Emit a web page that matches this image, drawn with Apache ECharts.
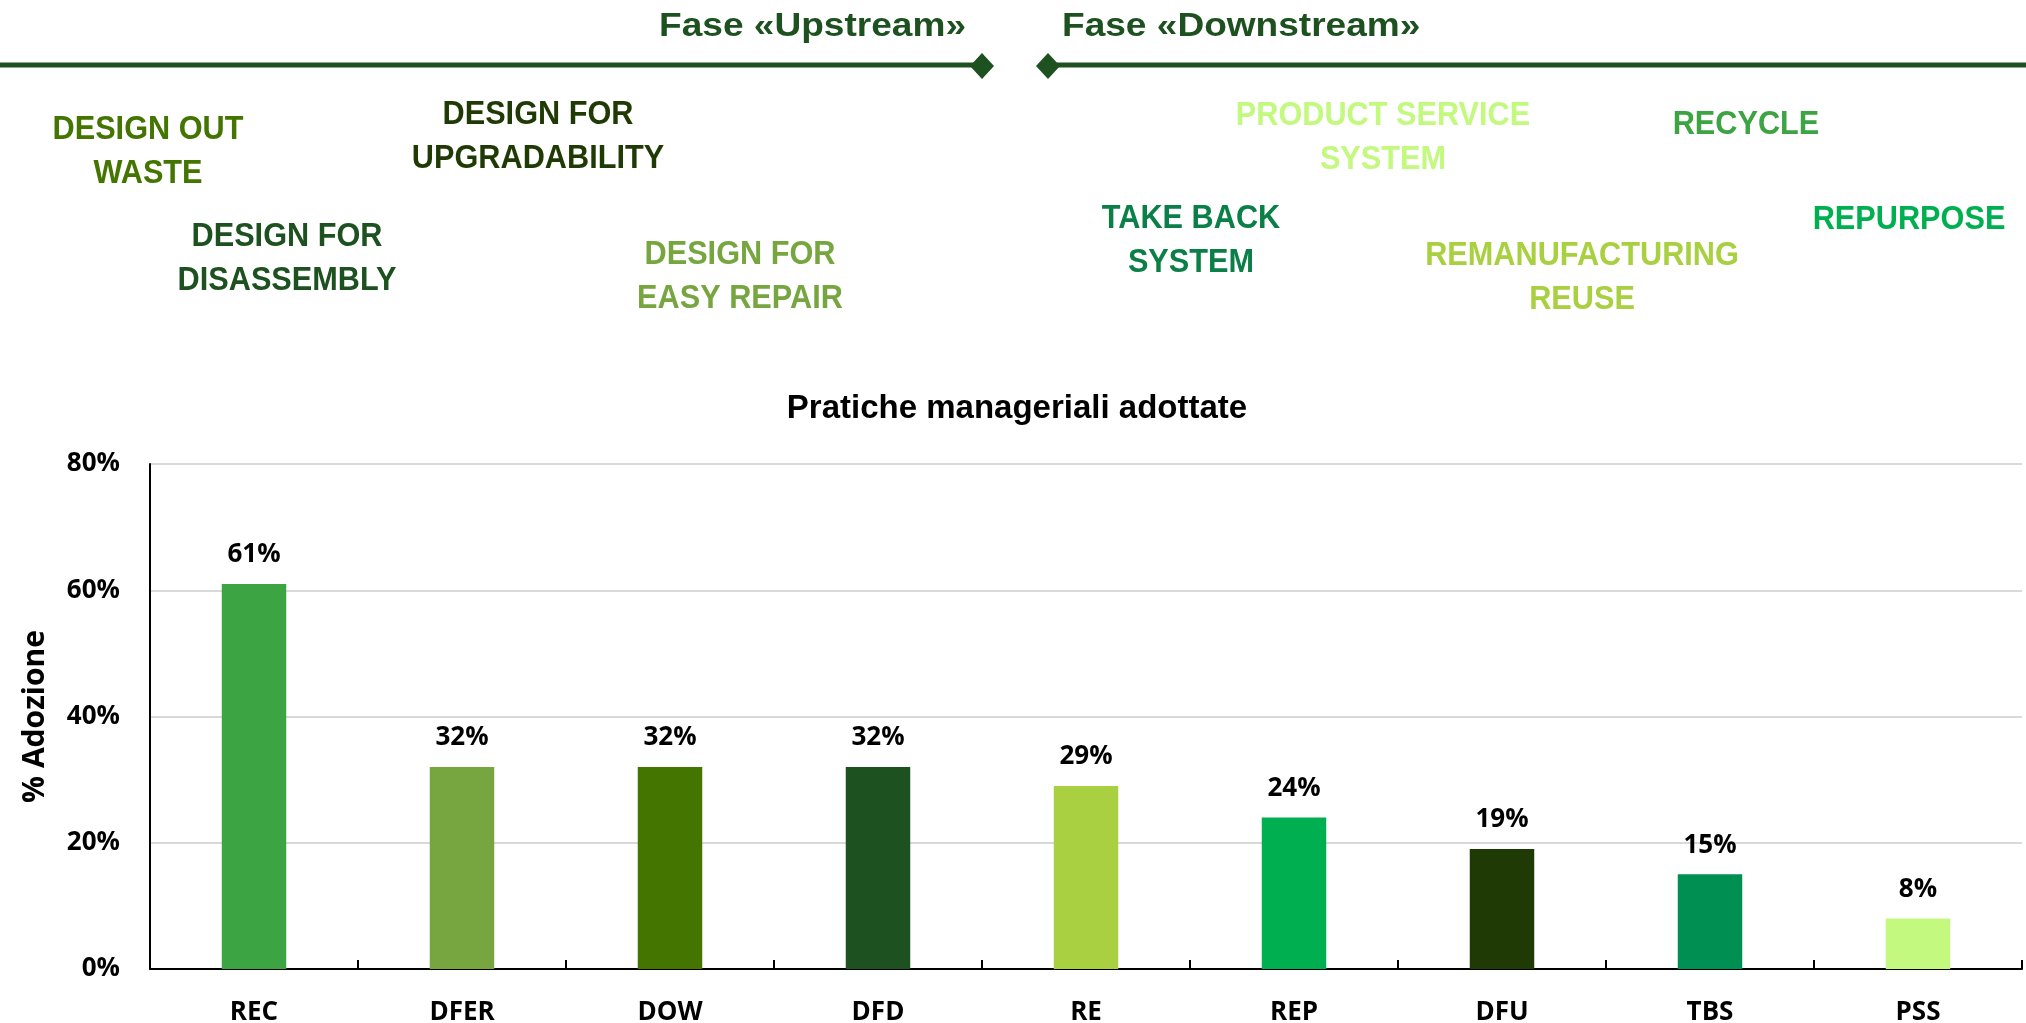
<!DOCTYPE html>
<html>
<head>
<meta charset="utf-8">
<script src="https://cdn.jsdelivr.net/npm/echarts@6/dist/echarts.min.js"></script>
<style>
html,body{margin:0;padding:0;background:#fff;}
#chart{width:2026px;height:1023px;}
</style>
</head>
<body>
<div id="chart"></div>
<script>
// ---- data ----
const categories = ['REC', 'DFER', 'DOW', 'DFD', 'RE', 'REP', 'DFU', 'TBS', 'PSS'];
const adoption = [61, 32, 32, 32, 29, 24, 19, 15, 8];
const yAxisMax = 80;
const yAxisStep = 20;
const chartTitle = 'Pratiche manageriali adottate';
const yAxisName = '% Adozione';
const phaseUp = 'Fase «Upstream»';
const phaseDown = 'Fase «Downstream»';
const practiceTexts = [
  'DESIGN OUT\nWASTE',
  'DESIGN FOR\nDISASSEMBLY',
  'DESIGN FOR\nUPGRADABILITY',
  'DESIGN FOR\nEASY REPAIR',
  'TAKE BACK\nSYSTEM',
  'PRODUCT SERVICE\nSYSTEM',
  'REMANUFACTURING\nREUSE',
  'RECYCLE',
  'REPURPOSE'
];

// ---- styles ----
const barColors = ['#3DA443', '#77A640', '#437500', '#1E5120', '#A8D040', '#00B050', '#1F3A04', '#008F52', '#C3F97E'];
const practiceColors = ['#437500', '#1E5120', '#1F3A04', '#77A640', '#0A7F47', '#C3F97E', '#A8D040', '#3DA443', '#00B050'];
const practicePos = [[148,152],[287,259],[538,137],[740,277],[1191,241],[1383,138],[1582,278],[1746,125],[1909,220]];
const darkGreen = '#1E5120';
const sansFont = '"Liberation Sans", Arial, sans-serif';
const labelFont = '"Open Sans", sans-serif';

const chart = echarts.init(document.getElementById('chart'), null, {renderer: 'canvas'});

const graphics = [
  {type: 'line', shape: {x1: 0, y1: 65, x2: 982, y2: 65}, style: {stroke: darkGreen, lineWidth: 5}},
  {type: 'polygon', shape: {points: [[970,66],[982,53],[994,66],[982,79]]}, style: {fill: darkGreen}},
  {type: 'line', shape: {x1: 1048, y1: 65, x2: 2026, y2: 65}, style: {stroke: darkGreen, lineWidth: 5}},
  {type: 'polygon', shape: {points: [[1036,66],[1048,53],[1060,66],[1048,79]]}, style: {fill: darkGreen}},
  {type: 'text', x: 966, y: 27, scaleX: 1.09, style: {text: phaseUp, fill: darkGreen, font: 'bold 34px ' + sansFont, textAlign: 'right', textVerticalAlign: 'middle'}},
  {type: 'text', x: 1062, y: 27, scaleX: 1.09, style: {text: phaseDown, fill: darkGreen, font: 'bold 34px ' + sansFont, textAlign: 'left', textVerticalAlign: 'middle'}}
];
practiceTexts.forEach(function (t, i) {
  graphics.push({
    type: 'text', x: practicePos[i][0], y: practicePos[i][1], scaleX: 0.93,
    style: {text: t, fill: practiceColors[i], font: 'bold 33px ' + sansFont, lineHeight: 44,
      textAlign: 'center', textVerticalAlign: 'middle'}
  });
});

chart.setOption({
  animation: false,
  title: {
    text: chartTitle, left: 1012, top: 387, textAlign: 'center',
    textStyle: {fontFamily: sansFont, fontWeight: 'bold', fontSize: 33, color: '#000'}
  },
  grid: {left: 150, right: 4, top: 464, bottom: 54, containLabel: false, outerBoundsMode: 'none'},
  xAxis: {
    type: 'category', data: categories,
    axisLine: {lineStyle: {color: '#000', width: 2}},
    axisTick: {show: true, inside: true, length: 9, lineStyle: {color: '#000', width: 2}},
    axisLabel: {color: '#000', fontFamily: labelFont, fontWeight: 'bold', fontSize: 26, margin: 31}
  },
  yAxis: {
    type: 'value', min: 0, max: yAxisMax, interval: yAxisStep,
    name: yAxisName, nameLocation: 'middle', nameGap: 100, nameRotate: 90,
    nameTextStyle: {color: '#000', fontFamily: labelFont, fontWeight: 'bold', fontSize: 30},
    axisLine: {show: true, lineStyle: {color: '#000', width: 2}},
    axisTick: {show: false},
    splitLine: {lineStyle: {color: '#D9D9D9', width: 2}},
    axisLabel: {color: '#000', fontFamily: labelFont, fontWeight: 'bold', fontSize: 26, margin: 30, formatter: '{value}%'}
  },
  series: [{
    type: 'bar', data: adoption.map(function (v, i) { return {value: v, itemStyle: {color: barColors[i]}}; }),
    barWidth: '31%',
    label: {show: true, position: 'top', distance: 16, formatter: '{c}%', color: '#000',
      fontFamily: labelFont, fontWeight: 'bold', fontSize: 26}
  }],
  graphic: graphics
});
</script>
</body>
</html>
